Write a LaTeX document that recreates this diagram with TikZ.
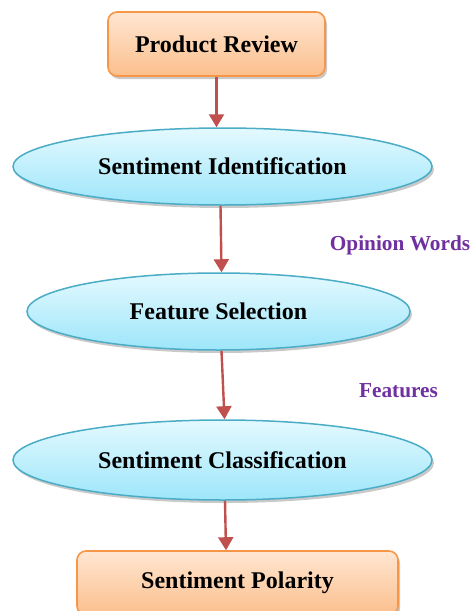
\documentclass[tikz,border=0pt]{standalone}
\usepackage{fontspec}
\setmainfont{Liberation Serif}
\usetikzlibrary{shapes.geometric,shadows,arrows.meta}
\definecolor{boxtop}{HTML}{FFE6D2}
\definecolor{boxbot}{HTML}{FBBF8C}
\definecolor{boxline}{HTML}{F79646}
\definecolor{elltop}{HTML}{E4F9FF}
\definecolor{ellbot}{HTML}{9DE6FA}
\definecolor{ellline}{HTML}{4BACC6}
\definecolor{arrowred}{HTML}{C0504D}
\definecolor{labpurple}{HTML}{7030A0}
\tikzset{
  x=1pt, y=1pt,
  procbox/.style={rectangle, rounded corners=9pt, draw=boxline, line width=1.6pt,
    top color=boxtop, bottom color=boxbot, inner sep=0pt,
    drop shadow={shadow xshift=2pt, shadow yshift=-3pt, opacity=0.3, fill=black!70},
    font=\fontsize{24}{28}\selectfont\bfseries},
  procell/.style={ellipse, draw=ellline, line width=1.5pt,
    top color=elltop, bottom color=ellbot, inner sep=0pt,
    drop shadow={shadow xshift=2pt, shadow yshift=-3pt, opacity=0.3, fill=black!70},
    font=\fontsize{24}{28}\selectfont\bfseries},
  flow/.style={draw=arrowred, line width=2.4pt, -{Triangle[length=13pt,width=15pt]}},
  sidelabel/.style={text=labpurple, font=\fontsize{21.3}{25}\selectfont\bfseries}
}
\begin{document}
\begin{tikzpicture}
\useasboundingbox (0,0) rectangle (473,-611);
\node[procbox, minimum width=217, minimum height=64] (pr) at (216.5,-44) {Product Review};
\node[procell, minimum width=419, minimum height=77] (e1) at (222.5,-166.5) {Sentiment Identification};
\node[procell, minimum width=383, minimum height=77] (e2) at (218.5,-311.5) {Feature Selection};
\node[procell, minimum width=419, minimum height=80] (e3) at (222.5,-460) {Sentiment Classification};
\node[procbox, minimum width=321, minimum height=64] (sp) at (237.5,-583) {Sentiment Polarity};
\node[sidelabel] (ow) at (400,-245) {Opinion Words};
\node[sidelabel] (ft) at (398.5,-391) {Features};
\draw[flow] (pr.south) -- (pr.south |- e1.north);
\draw[flow] ([xshift=-2pt]e1.south) -- ([xshift=3pt]e2.north);
\draw[flow] ([xshift=3pt]e2.south) -- ([xshift=2pt]e3.north);
\draw[flow] ([xshift=2.5pt]e3.south) -- ([xshift=3.5pt]e3.south |- sp.north);
\end{tikzpicture}
\end{document}
